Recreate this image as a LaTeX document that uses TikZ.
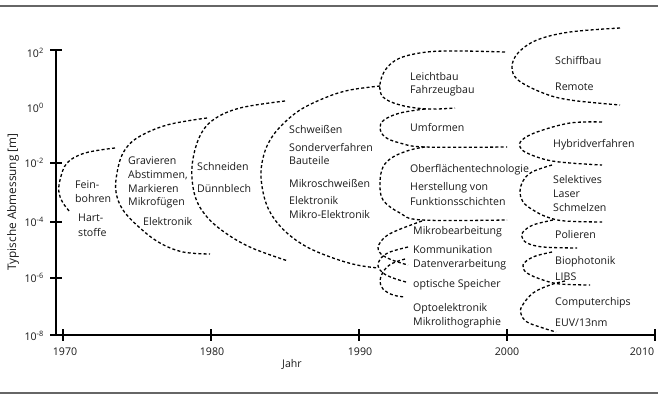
\documentclass[tikz,border=0pt]{standalone}
\usepackage{fontspec}
\setmainfont{Open Sans}
\begin{document}
\begin{tikzpicture}[x=1pt,y=-1pt,
  dl/.style={line width=1.3pt, dash pattern=on 3pt off 2.3pt, line cap=butt},
  ax/.style={line width=1.6pt},
  rule/.style={line width=2.2pt, draw=black!60},
  lbl/.style={anchor=west, inner sep=0pt, font=\fontsize{10.6}{12}\selectfont, text=black!90},
  tl/.style={inner sep=0pt, font=\fontsize{10.6}{12}\selectfont, text=black!90},
  sm/.style={smooth, tension=0.6}]
\useasboundingbox (0,0) rectangle (658,396);
% rules
\draw[rule] (0,6) -- (658,6);
\draw[rule] (0,393) -- (658,393);
% axes
\coordinate (o) at (56,335);
\coordinate (ytop) at (56,50);
\coordinate (xl) at (50,335);
\coordinate (xr) at (655,335);
\draw[ax] (ytop) -- (o);
\draw[ax] (xl) -- (xr);
\foreach \yy in {50,163,222,278} \draw[ax] (50,\yy) -- (62,\yy);
\foreach \xx in {63,211,359,507,655} \draw[ax] (\xx,329) -- (\xx,341);
% y labels
\node[tl,anchor=east] (y2) at (44,53) {10\textsuperscript{2}};
\node[tl,anchor=east] (y0) at (44,108) {10\textsuperscript{0}};
\node[tl,anchor=east] (ym2) at (44,163) {10\textsuperscript{-2}};
\node[tl,anchor=east] (ym4) at (44,222) {10\textsuperscript{-4}};
\node[tl,anchor=east] (ym6) at (44,278) {10\textsuperscript{-6}};
\node[tl,anchor=east] (ym8) at (44,336) {10\textsuperscript{-8}};
\node[tl,rotate=90,font=\fontsize{11.8}{13}\selectfont] (ytitle) at (13,202) {Typische Abmessung [m]};
% x labels
\node[tl] (x1970) at (65,352) {1970};
\node[tl] (x1980) at (212,352) {1980};
\node[tl] (x1990) at (360,352) {1990};
\node[tl] (x2000) at (507,352) {2000};
\node[tl] (x2010) at (642,352) {2010};
\node[tl] (jahr) at (292,364) {Jahr};
% dashed arcs
\draw[dl] plot[sm] coordinates {(115,148) (85,153) (67,163) (60,180) (59,193) (63,203) (70,212)};
\draw[dl] plot[sm] coordinates {(207,118) (167,125) (137,138) (123,153) (117,173) (116,192) (123,210) (140,228) (160,243) (183,252) (210,254)};
\draw[dl] plot[sm] coordinates {(285,101) (240,108) (213,120) (199,138) (192,167) (195,196) (207,217) (227,234) (252,248) (288,261)};
\draw[dl] plot[sm] coordinates {(380,86) (350,90) (327,97) (300,110) (280,127) (269,142) (263,158) (261,177) (265,200) (273,217) (287,233) (307,247) (333,258) (357,265) (378,268)};
\draw[dl] plot[sm] coordinates {(505,52) (460,51) (427,52) (400,58) (386,69) (380,84) (383,97) (400,105) (427,109) (455,108)};
\draw[dl] plot[sm] coordinates {(425,109) (400,113) (384,120) (380,128) (385,137) (400,143) (425,147) (507,147)};
\draw[dl] plot[sm] coordinates {(425,147) (410,150) (393,157) (383,167) (380,183) (383,200) (400,213) (422,220) (507,220)};
\draw[dl] plot[sm] coordinates {(422,221) (398,230) (385,237) (378,247) (381,254) (392,260) (408,265)};
\draw[dl] plot[sm] coordinates {(408,247) (390,252) (381,258) (378,266) (383,273) (393,278) (406,282)};
\draw[dl] plot[sm] coordinates {(405,259) (391,264) (383,272) (380,281) (383,289) (393,295) (405,297)};
\draw[dl] plot[sm] coordinates {(620,28) (570,32) (537,40) (518,53) (512,67) (518,80) (543,93) (570,100) (620,105)};
\draw[dl] plot[sm] coordinates {(602,122) (570,123) (537,132) (522,140) (520,147) (527,153) (547,160) (570,163) (602,165)};
\draw[dl] plot[sm] coordinates {(552,165) (532,172) (523,181) (520,192) (523,202) (533,210) (547,217) (565,221) (602,222)};
\draw[dl] plot[sm] coordinates {(553,220) (533,225) (523,232) (522,237) (527,243) (543,247) (577,248)};
\draw[dl] plot[sm] coordinates {(552,252) (533,257) (523,265) (527,273) (543,280) (560,284) (590,285)};
\draw[dl] plot[sm] coordinates {(565,281) (550,285) (533,293) (522,306) (521,314) (527,322) (543,328) (556,332)};
% texts
\node[lbl] (t1) at (75,185) {Fein-};
\node[lbl] (t2) at (75,199) {bohren};
\node[lbl] (t3) at (78,218) {Hart-};
\node[lbl] (t4) at (78,232) {stoffe};
\node[lbl] (t5) at (128,161) {Gravieren};
\node[lbl] (t6) at (128,175) {Abstimmen,};
\node[lbl] (t7) at (128,189) {Markieren};
\node[lbl] (t8) at (128,203) {Mikrofügen};
\node[lbl] (t9) at (143,222) {Elektronik};
\node[lbl] (t10) at (197,167) {Schneiden};
\node[lbl] (t11) at (197,189) {Dünnblech};
\node[lbl] (t12) at (289,129) {Schweißen};
\node[lbl] (t13) at (289,147) {Sonderverfahren};
\node[lbl] (t14) at (289,161) {Bauteile};
\node[lbl] (t15) at (289,183) {Mikroschweißen};
\node[lbl] (t16) at (289,201) {Elektronik};
\node[lbl] (t17) at (289,215) {Mikro-Elektronik};
\node[lbl] (t18) at (410,77) {Leichtbau};
\node[lbl] (t19) at (410,91) {Fahrzeugbau};
\node[lbl] (t20) at (410,127) {Umformen};
\node[lbl] (t21) at (410,170) {Oberflächentechnologie};
\node[lbl] (t22) at (410,188) {Herstellung von};
\node[lbl] (t23) at (410,202) {Funktionsschichten};
\node[lbl] (t24) at (413,232) {Mikrobearbeitung};
\node[lbl] (t25) at (413,250) {Kommunikation};
\node[lbl] (t26) at (413,265) {Datenverarbeitung};
\node[lbl] (t27) at (413,285) {optische Speicher};
\node[lbl] (t28) at (413,309) {Optoelektronik};
\node[lbl] (t29) at (413,323) {Mikrolithographie};
\node[lbl] (t30) at (555,60) {Schiffbau};
\node[lbl] (t31) at (555,87) {Remote};
\node[lbl] (t32) at (553,145) {Hybridverfahren};
\node[lbl] (t33) at (553,180) {Selektives};
\node[lbl] (t34) at (553,194) {Laser};
\node[lbl] (t35) at (553,208) {Schmelzen};
\node[lbl] (t36) at (555,235) {Polieren};
\node[lbl] (t37) at (555,262) {Biophotonik};
\node[lbl] (t38) at (555,277) {LIBS};
\node[lbl] (t39) at (555,303) {Computerchips};
\node[lbl] (t40) at (555,323) {EUV/13nm};
\end{tikzpicture}
\end{document}
